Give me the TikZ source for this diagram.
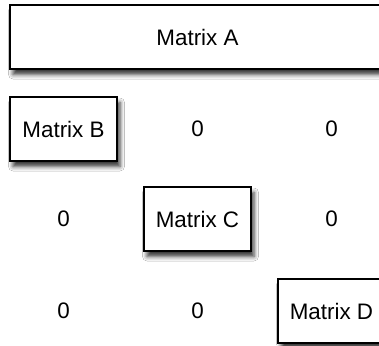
\documentclass[tikz,border=0pt]{standalone}
\usepackage{fontspec}
\setmainfont{Liberation Sans}
\usetikzlibrary{shadows.blur}
\begin{document}
\begin{tikzpicture}[x=1pt,y=-1pt,
  block/.style={draw=black, line width=1.2pt, fill=white, rectangle,
    minimum width=107pt, minimum height=64pt, inner sep=0pt,
    font=\fontsize{22.4pt}{26pt}\selectfont,
    blur shadow={shadow xshift=3pt, shadow yshift=-5.5pt,
      shadow blur radius=4.5pt, shadow opacity=80}},
  wide/.style={block, minimum width=375pt},
  zero/.style={font=\fontsize{22.4pt}{26pt}\selectfont, inner sep=0pt}]
  \useasboundingbox (0,0) rectangle (379,345);
  \fill[white] (0,0) rectangle (379,345);
  % top block spanning all three columns
  \node[wide] (A) at (197.5,37) {Matrix A};
  % diagonal blocks
  \node[block] (B) at (63.5,129) {Matrix B};
  \node[block] (C) at (197.5,219) {Matrix C};
  \node[block] (D) at (331.5,311) {Matrix D};
  % zero entries
  \node[zero] (z12) at (197.5,129) {0};
  \node[zero] (z13) at (331.5,129) {0};
  \node[zero] (z21) at (63.5,219) {0};
  \node[zero] (z23) at (331.5,219) {0};
  \node[zero] (z31) at (63.5,311) {0};
  \node[zero] (z32) at (197.5,311) {0};
\end{tikzpicture}
\end{document}
